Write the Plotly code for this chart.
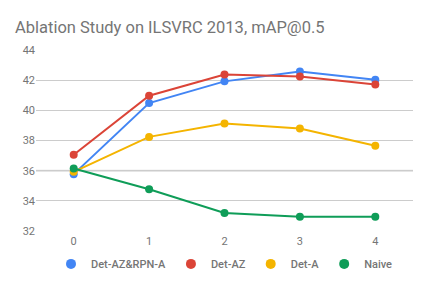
import plotly.graph_objects as go

x = [0, 1, 2, 3, 4]
series_names = ["Det-AZ&RPN-A", "Det-AZ", "Det-A", "Naive"]
det_az_rpn_a = [35.77, 40.48, 41.92, 42.58, 42.03]
det_az = [37.05, 40.97, 42.38, 42.25, 41.72]
det_a = [35.92, 38.24, 39.13, 38.80, 37.65]
naive = [36.14, 34.77, 33.20, 32.95, 32.95]
colors = ["#4285F4", "#DB4437", "#F4B400", "#0F9D58"]
y_ticks = [32, 34, 36, 38, 40, 42, 44]
baseline_value = 36

fig = go.Figure()
for name, vals, c in zip(series_names, [det_az_rpn_a, det_az, det_a, naive], colors):
    fig.add_trace(go.Scatter(x=x, y=vals, mode="lines+markers", name=name,
                             line=dict(color=c, width=2),
                             marker=dict(color=c, size=8),
                             showlegend=False))
for name, c in zip(series_names, colors):
    fig.add_trace(go.Scatter(x=[None], y=[None], mode="markers", name=name,
                             marker=dict(color=c, size=10), showlegend=True))

fig.add_hline(y=baseline_value, line=dict(color="#dddddd", width=2), layer="below")

fig.update_layout(
    width=428, height=285,
    margin=dict(l=36, r=15, t=50, b=54, autoexpand=False),
    paper_bgcolor="white", plot_bgcolor="white",
    font=dict(family="Roboto", color="#757575", size=11),
    title=dict(text="Ablation Study on ILSVRC 2013, mAP@0.5", x=0.035, xanchor="left",
               y=0.905, yanchor="middle", font=dict(size=16.5, color="#757575")),
    xaxis=dict(range=[-0.5, 4.5], tickvals=x, showgrid=False, zeroline=False,
               showline=False, ticks="", automargin=False, ticklabelstandoff=2,
               tickfont=dict(size=11, color="#757575")),
    yaxis=dict(range=[32, 44], tickvals=y_ticks, showgrid=True, gridcolor="#cccccc",
               gridwidth=1, zeroline=False, showline=False, ticks="", automargin=False,
               tickfont=dict(size=11, color="#757575")),
    legend=dict(orientation="h", x=0.5, xanchor="center", yref="container",
                y=0.074, yanchor="middle",
                font=dict(size=11, color="#757575", family="Roboto", weight=500),
                itemwidth=30, tracegroupgap=0),
    showlegend=True,
)
fig.write_html("out.html", config={"displayModeBar": False},
               post_script="document.body.style.margin='0px';")
